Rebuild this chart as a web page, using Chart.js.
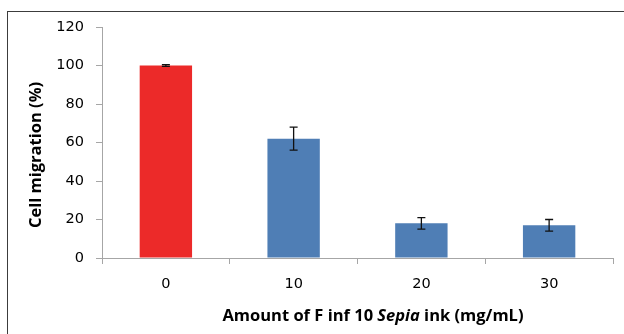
<!DOCTYPE html>
<html>
<head>
<meta charset="utf-8">
<script src="https://cdn.jsdelivr.net/npm/chart.js@4.4.1/dist/chart.umd.min.js"></script>
<style>
  html, body { margin: 0; padding: 0; background: #fff; }
  #wrap { width: 624px; height: 334px; position: relative; }
</style>
</head>
<body>
<div id="wrap"><canvas id="chart"></canvas></div>
<script>
// data
const categories = ['0', '10', '20', '30'];
const migration = [100, 62, 18, 17];
const migrationErr = [0.5, 6, 3, 3];
const barColors = ['#ec2a29', '#4f7eb5', '#4f7eb5', '#4f7eb5'];
const yTitle = 'Cell migration (%)';
const xTitleParts = [
    { text: 'Amount of F inf 10 ', italic: false },
    { text: 'Sepia', italic: true },
    { text: ' ink (mg/mL)', italic: false }
];

const tickFont = 'DejaVu Sans';
const titleFont = 'Open Sans';
const titleSize = 16.5;

// error bars, outer frame and the two axis titles
const extrasPlugin = {
    id: 'extras',
    afterDatasetsDraw(chart) {
        const ctx = chart.ctx;
        const x = chart.scales.x, y = chart.scales.y;
        ctx.save();
        ctx.strokeStyle = '#111';
        ctx.lineWidth = 1.3;
        migration.forEach((v, i) => {
            const cx = x.getPixelForValue(i);
            const yHi = y.getPixelForValue(v + migrationErr[i]);
            const yLo = y.getPixelForValue(v - migrationErr[i]);
            ctx.beginPath();
            ctx.moveTo(cx, yHi); ctx.lineTo(cx, yLo);
            ctx.moveTo(cx - 4, yHi); ctx.lineTo(cx + 4, yHi);
            ctx.moveTo(cx - 4, yLo); ctx.lineTo(cx + 4, yLo);
            ctx.stroke();
        });
        ctx.restore();
    },
    afterDraw(chart) {
        const ctx = chart.ctx;
        ctx.save();
        // frame around the chart
        ctx.strokeStyle = '#3c3c3c';
        ctx.lineWidth = 1;
        ctx.strokeRect(7.5, 11.5, 640, 340);

        // y title
        ctx.fillStyle = '#000';
        ctx.font = `bold ${titleSize}px "${titleFont}"`;
        ctx.textAlign = 'center';
        ctx.textBaseline = 'middle';
        ctx.translate(36, 155);
        ctx.rotate(-Math.PI / 2);
        ctx.fillText(yTitle, 0, 0);
        ctx.restore();

        // x title with italic Sepia
        ctx.save();
        ctx.fillStyle = '#000';
        ctx.textBaseline = 'middle';
        ctx.textAlign = 'left';
        const fonts = xTitleParts.map(p => `${p.italic ? 'italic ' : ''}bold ${titleSize}px "${titleFont}"`);
        let total = 0;
        xTitleParts.forEach((p, i) => { ctx.font = fonts[i]; total += ctx.measureText(p.text).width; });
        let px = 373 - total / 2;
        xTitleParts.forEach((p, i) => {
            ctx.font = fonts[i];
            ctx.fillText(p.text, px, 316);
            px += ctx.measureText(p.text).width;
        });
        ctx.restore();
    }
};

document.addEventListener('DOMContentLoaded', () => {
    const ctx = document.getElementById('chart').getContext('2d');
    new Chart(ctx, {
        type: 'bar',
        data: {
            labels: categories,
            datasets: [{
                data: migration,
                backgroundColor: barColors,
                borderWidth: 0,
                barPercentage: 0.41,
                categoryPercentage: 1
            }]
        },
        options: {
            responsive: true,
            maintainAspectRatio: false,
            animation: false,
            layout: { padding: { left: 0, top: 27, right: 11, bottom: 0 } },
            plugins: {
                legend: { display: false },
                tooltip: { enabled: false }
            },
            scales: {
                x: {
                    afterFit(scale) { scale.height = 76; },
                    grid: {
                        offset: true,
                        drawOnChartArea: false,
                        drawTicks: true,
                        tickLength: 6,
                        color: '#a6a6a6'
                    },
                    border: { color: '#a6a6a6', width: 1 },
                    ticks: {
                        color: '#000',
                        padding: 12,
                        font: { family: tickFont, size: 14.5 }
                    }
                },
                y: {
                    min: 0,
                    max: 120,
                    afterFit(scale) { scale.width = 102; },
                    grid: {
                        drawOnChartArea: false,
                        drawTicks: true,
                        tickLength: 6,
                        color: '#a6a6a6'
                    },
                    border: { color: '#a6a6a6', width: 1 },
                    ticks: {
                        stepSize: 20,
                        color: '#000',
                        padding: 12,
                        font: { family: tickFont, size: 14.5 }
                    }
                }
            }
        },
        plugins: [extrasPlugin]
    });
});
</script>
</body>
</html>
